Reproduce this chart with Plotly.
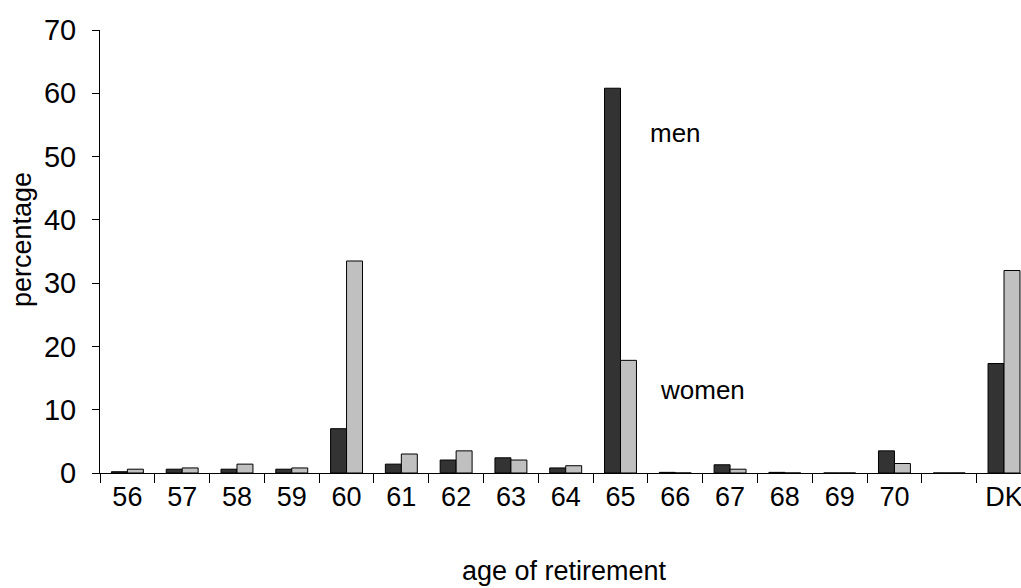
import plotly.graph_objects as go

categories = ["56", "57", "58", "59", "60", "61", "62", "63", "64", "65",
              "66", "67", "68", "69", "70", " ", "DK"]
men = [0.2, 0.6, 0.6, 0.6, 7.0, 1.4, 2.05, 2.4, 0.8, 60.8,
       0.1, 1.3, 0.1, 0.0, 3.5, 0.0, 17.3]
women = [0.6, 0.8, 1.4, 0.8, 33.5, 3.0, 3.5, 2.05, 1.15, 17.8,
         0.0, 0.6, 0.0, 0.0, 1.5, 0.0, 32.0]
y_ticks = [0, 10, 20, 30, 40, 50, 60, 70]

FONT = "Liberation Sans, Arial, sans-serif"

fig = go.Figure()
fig.add_trace(go.Bar(x=categories, y=men, name="men",
                     marker=dict(color="#333333", line=dict(color="#000000", width=1))))
fig.add_trace(go.Bar(x=categories, y=women, name="women",
                     marker=dict(color="#c0c0c0", line=dict(color="#000000", width=1))))

fig.update_layout(
    width=1021, height=588,
    margin=dict(l=100, r=0, t=30, b=115, autoexpand=False),
    paper_bgcolor="white", plot_bgcolor="white",
    barmode="group", bargap=0.417, bargroupgap=0,
    showlegend=False,
    font=dict(family=FONT, color="#000000", size=27),
)
fig.update_xaxes(
    type="category", range=[-0.5, 16.31], automargin=False,
    showline=True, linecolor="#000000", linewidth=1,
    ticks="outside", tickson="boundaries", ticklen=9, tickcolor="#000000",
    tickfont=dict(size=27), showgrid=False, zeroline=False,
    ticklabelstandoff=0,
)
fig.update_yaxes(
    range=[0, 70], tickvals=y_ticks, automargin=False,
    showline=True, linecolor="#000000", linewidth=1,
    ticks="outside", ticklen=7, tickcolor="#000000",
    tickfont=dict(size=29), showgrid=False, zeroline=False,
    ticklabelstandoff=10,
)
# axis titles
fig.add_annotation(x=0.504, y=0, xref="paper", yref="paper", yshift=-98,
                   yanchor="middle", text="age of retirement", showarrow=False,
                   font=dict(size=27))
fig.add_annotation(x=0, y=0.526, xref="paper", yref="paper", xshift=-78,
                   xanchor="center", yanchor="middle", textangle=-90,
                   text="percentage", showarrow=False, font=dict(size=27))
# series labels
fig.add_annotation(x=0.625, y=53.7, xref="paper", yref="y",
                   text="men", showarrow=False, font=dict(size=26))
fig.add_annotation(x=0.654, y=13.1, xref="paper", yref="y",
                   text="women", showarrow=False, font=dict(size=26))

fig.write_html(
    "out.html",
    config={"displayModeBar": False},
    post_script="document.body.style.margin='0';document.body.style.overflow='hidden';",
)
